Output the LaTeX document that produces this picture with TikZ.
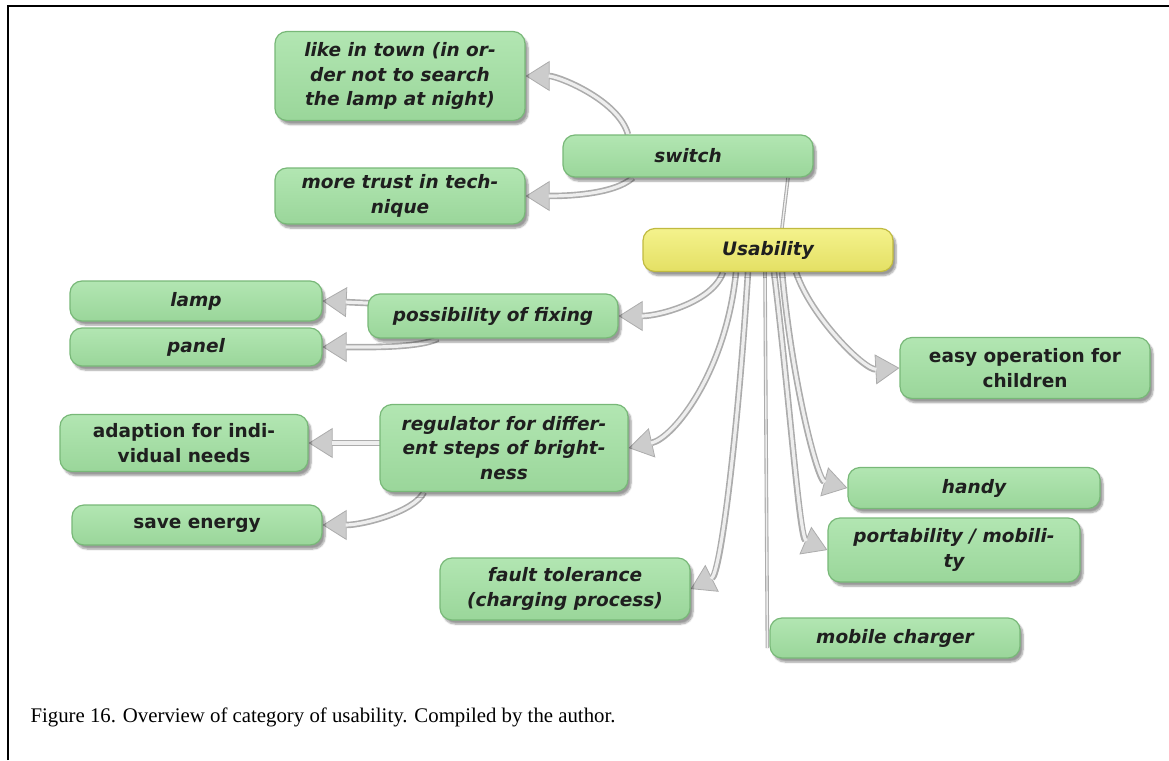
\documentclass[tikz,border=0pt]{standalone}
\usepackage{fontspec}
\setmainfont{Liberation Serif}
\newfontfamily\boxfont{DejaVu Sans}
\usetikzlibrary{arrows.meta,shadows.blur,backgrounds}

\definecolor{boxgreen}{RGB}{154,214,154}
\definecolor{boxgreenlight}{RGB}{178,230,178}
\definecolor{boxgreenedge}{RGB}{120,184,120}
\definecolor{boxyellow}{RGB}{228,224,100}
\definecolor{boxyellowlight}{RGB}{244,242,140}
\definecolor{boxyellowedge}{RGB}{192,186,64}
\definecolor{tubeedge}{RGB}{172,172,172}
\definecolor{tubefill}{RGB}{238,238,238}
\definecolor{tipfill}{RGB}{204,204,204}

\tikzset{
  idea/.style={rounded corners=12pt, draw=boxgreenedge, line width=1.2pt,
    top color=boxgreenlight, bottom color=boxgreen,
    minimum width=250pt, inner sep=3pt, align=center, text=black!88,
    font=\boxfont\bfseries\itshape\fontsize{18.5}{24.5}\selectfont,
    blur shadow={shadow xshift=3pt, shadow yshift=-4pt, shadow blur steps=6, shadow opacity=40}},
  upright/.style={font=\boxfont\bfseries\fontsize{18.5}{24.5}\selectfont},
  core/.style={idea, draw=boxyellowedge, top color=boxyellowlight, bottom color=boxyellow},
  tube/.style={draw=tubeedge, line width=6.5pt,
    -{Triangle[length=24pt, width=30pt, line width=0.8pt, fill=tipfill]},
    postaction={draw=tubefill, line width=3.2pt, -, shorten >=23pt}},
  link/.style={draw=tubeedge, line width=3.6pt, postaction={draw=tubefill, line width=1.4pt}},
}

\begin{document}
\begin{tikzpicture}[x=1pt, y=-1pt]
\useasboundingbox (0,0) rectangle (1169,760);
\draw[line width=2.4pt] (8,760) -- (8,6) -- (1169,6);

% ideas around the central category
\node[idea, minimum height=89pt] (town) at (400,76) {like in town (in or-\\der not to search\\the lamp at night)};
\node[idea, minimum height=42pt] (sw) at (688,156) {switch};
\node[idea, minimum height=56pt] (trust) at (400,196) {more trust in tech-\\nique};
\node[core, minimum height=43pt] (use) at (768,250) {Usability};
\node[idea, minimum width=252pt, minimum height=40pt] (lamp) at (196,301) {lamp};
\node[idea, minimum height=44pt] (poss) at (493,316) {possibility of fixing};
\node[idea, minimum width=252pt, minimum height=38pt] (panel) at (196,347) {panel};
\node[idea, upright, minimum width=248pt, minimum height=57pt] (adapt) at (184,443) {adaption for indi-\\vidual needs};
\node[idea, minimum width=248pt, minimum height=87pt] (reg) at (504,448) {regulator for differ-\\ent steps of bright-\\ness};
\node[idea, upright, minimum height=40pt] (save) at (197,525) {save energy};
\node[idea, upright, minimum height=61pt] (easy) at (1025,368) {easy operation for\\children};
\node[idea, minimum width=252pt, minimum height=41pt] (handy) at (974,488) {handy};
\node[idea, minimum width=252pt, minimum height=64pt] (port) at (954,550) {portability / mobili-\\ty};
\node[idea, minimum height=62pt] (fault) at (565,589) {fault tolerance\\(charging process)};
\node[idea, minimum height=40pt] (mob) at (895,638) {mobile charger};

\node[anchor=base west, font=\fontsize{20.8}{25}\selectfont] (cap) at (27,722)
  {Figure 16. Overview of category of usability. Compiled by the author.};

% connectors run behind the boxes
\begin{pgfonlayer}{background}
\draw[link] ([xshift=14pt]use.north) -- ([xshift=100pt]sw.south);
\draw[tube] ([xshift=-60pt]sw.north) .. controls +(-10,-35) and +(32,0) .. (town.east);
\draw[tube] ([xshift=-55pt]sw.south) .. controls +(-20,18) and +(35,0) .. (trust.east);

\draw[tube] ([xshift=-45pt]use.south) .. controls +(-10,30) and +(40,0) .. (poss.east);
\draw[tube] ([xshift=-32pt]use.south) .. controls +(-10,100) and +(45,-10) .. (reg.east);
\draw[tube] ([xshift=-20pt]use.south) .. controls +(-10,160) and +(30,-15) .. (fault.east);
\draw[link] ([xshift=-3pt]use.south) -- ([xshift=-2pt,yshift=-10pt]mob.west);
\draw[tube] ([xshift=6pt]use.south) .. controls +(15,120) and +(-28,-12) .. (port.west);
\draw[tube] ([xshift=14pt]use.south) .. controls +(10,110) and +(-30,-8) .. (handy.west);
\draw[tube] ([xshift=28pt]use.south) .. controls +(15,45) and +(-35,2) .. (easy.west);

\draw[tube] ([xshift=20pt,yshift=12pt]poss.west) -- (lamp.east);
\draw[tube] ([xshift=-55pt]poss.south) .. controls +(-20,10) and +(40,0) .. (panel.east);
\draw[tube] ([xshift=20pt,yshift=5pt]reg.west) -- (adapt.east);
\draw[tube] ([xshift=-80pt]reg.south) .. controls +(-10,20) and +(40,0) .. (save.east);
\end{pgfonlayer}
\end{tikzpicture}
\end{document}
